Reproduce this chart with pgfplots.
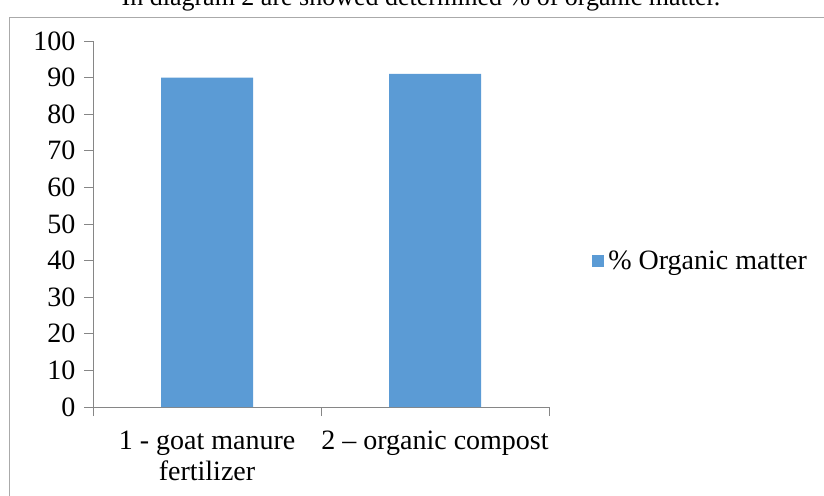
\documentclass[border=0pt]{standalone}
\usepackage{fontspec}
\setmainfont{Liberation Serif}
\usepackage{pgfplots}
\pgfplotsset{compat=1.18}
\definecolor{barblue}{HTML}{5B9BD5}
\definecolor{axisgray}{HTML}{868686}

\begin{document}
\begin{tikzpicture}[x=1pt,y=1pt]
  \useasboundingbox (0,0) rectangle (824,-495);
  \clip (0,0) rectangle (824,-495);
  % chart frame (runs off the right and bottom of the image)
  \draw[color=axisgray!70, line width=1pt] (9,-18) rectangle (840,-510);
  % caption line of the document, partly cut
  \node[anchor=base, font=\fontsize{26}{31}\selectfont] at (421,-6)
    {In diagram 2 are showed determined \% of organic matter.};
  \begin{axis}[
      at={(93pt,-407pt)}, anchor=south west,
      scale only axis,
      width=456pt, height=366pt,
      xmin=0.5, xmax=2.5,
      ymin=0, ymax=100,
      ytick={0,10,...,100},
      xtick={0.5,1.5,2.5},
      xticklabels={},
      extra x ticks={1,2},
      extra x tick labels={{1 - goat manure\\fertilizer},{2 -- organic compost}},
      extra x tick style={major tick length=0pt,
        tick label style={align=center, anchor=north, yshift=-20pt}},
      major tick length=9pt,
      tick align=outside,
      axis lines*=left,
      axis line style={axisgray, line width=0.8pt},
      tick style={axisgray, line width=0.8pt},
      ticklabel style={font=\fontsize{28}{31}\selectfont},
      y tick label style={xshift=-5pt},
      /pgf/number format/assume math mode=true,
      ybar, bar width=92pt,
      legend style={at={(axis description cs:1.088,0.40)}, anchor=west,
        draw=none, fill=none, font=\fontsize{28}{31}\selectfont},
      legend image code/.code={\fill[barblue] (0pt,-6pt) rectangle (12pt,6pt);},
    ]
    \addplot[fill=barblue, draw=none] coordinates {(1,90) (2,91)};
    \addlegendentry{\hspace{2pt}\% Organic matter}
  \end{axis}
\end{tikzpicture}
\end{document}
